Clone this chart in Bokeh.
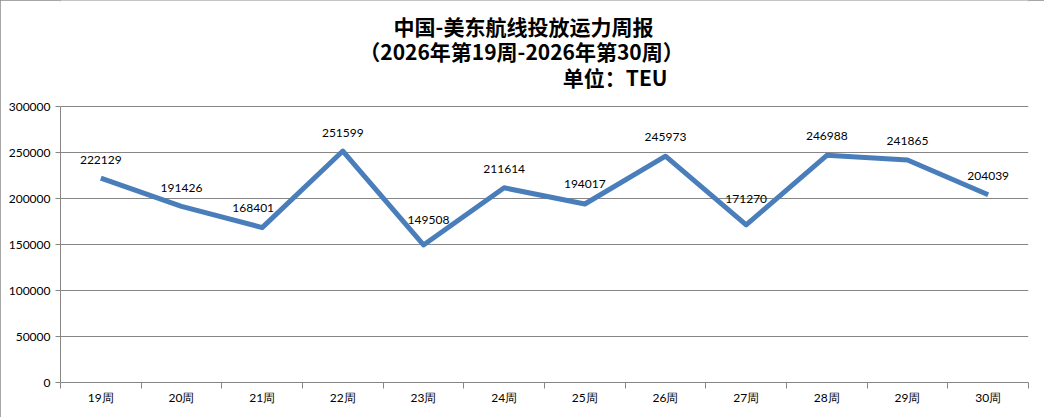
from bokeh.plotting import figure
from bokeh.models import ColumnDataSource, Range1d, FixedTicker, Label, BasicTickFormatter
from bokeh.core.properties import value
from bokeh.embed import file_html
from bokeh.resources import INLINE

weeks = ["19周", "20周", "21周", "22周", "23周", "24周", "25周", "26周", "27周", "28周", "29周", "30周"]
capacity = [222129, 191426, 168401, 251599, 149508, 211614, 194017, 245973, 171270, 246988, 241865, 204039]
y_ticks = [0, 50000, 100000, 150000, 200000, 250000, 300000]
title_lines = ["中国-美东航线投放运力周报", "（2026年第19周-2026年第30周）", "单位：TEU"]

# small per-label nudges (pixels) as in the original chart
label_dx = [0, 0, -9, 0, 5, 0, 0, 0, 0, 0, 0, 0]
label_dy = [-18, -18, -20, -18, -25, -19, -20, -19, -26, -19, -19, -19]

W, H = 1044, 417
BOTTOM = 35
frame_h = H - BOTTOM            # frame spans from canvas top to axis
axis_px = 276                   # pixel height of the 0..300000 scale
y_end = y_ticks[-1] * frame_h / axis_px

xs = [i + 0.5 for i in range(len(weeks))]
src = ColumnDataSource(dict(x=xs, y=capacity, label=[str(v) for v in capacity],
                            dx=label_dx, dy=label_dy))

GRAY = "#868686"
p = figure(width=W, height=H, output_backend="svg", toolbar_location=None,
           x_range=Range1d(0, len(weeks)), y_range=Range1d(y_ticks[0], y_end),
           min_border_left=60, min_border_right=16, min_border_top=0, min_border_bottom=BOTTOM)
p.outline_line_color = None
p.background_fill_color = "white"
p.border_fill_color = "white"
p.styles = {"outline": "2px solid #8a8a8a", "outline-offset": "-2px"}

p.line("x", "y", source=src, line_color="#4a7ebb", line_width=5, line_join="round")
p.text("x", "y", text="label", source=src, text_align="center", text_baseline="middle",
       x_offset="dx", y_offset="dy", text_font=value("Lato"), text_font_size="12px",
       text_color="black")

# x axis
xa = p.xaxis[0]
xa.ticker = FixedTicker(ticks=xs, minor_ticks=list(range(len(weeks) + 1)))
xa.major_label_overrides = {x: w for x, w in zip(xs, weeks)}
xa.major_tick_line_color = None
xa.major_tick_out = 0
xa.major_tick_in = 0
xa.minor_tick_in = 0
xa.minor_tick_out = 6
xa.minor_tick_line_color = GRAY
xa.axis_line_color = GRAY
xa.major_label_standoff = 1
xa.major_label_text_font = "Lato"
xa.major_label_text_font_size = "12px"
xa.major_label_text_color = "black"
p.xgrid.grid_line_color = None

# y axis
ya = p.yaxis[0]
ya.bounds = (y_ticks[0], y_ticks[-1])
ya.ticker = FixedTicker(ticks=y_ticks)
ya.formatter = BasicTickFormatter(use_scientific=False)
ya.minor_tick_line_color = None
ya.major_tick_in = 0
ya.major_tick_out = 5
ya.major_tick_line_color = GRAY
ya.axis_line_color = GRAY
ya.major_label_standoff = 5
ya.major_label_text_font = "Lato"
ya.major_label_text_font_size = "12px"
ya.major_label_text_color = "black"
p.ygrid.ticker = FixedTicker(ticks=y_ticks)
p.ygrid.grid_line_color = GRAY
p.ygrid.grid_line_width = 1

# titles (screen units relative to plot frame)
pos = [(463, 357, "center"), (461, 332, "center"), (607, 306, "right")]
for (tx, ty, al), t in zip(pos, title_lines):
    p.add_layout(Label(x=tx, y=ty, x_units="screen", y_units="screen", text=t,
                       text_align=al, text_baseline="middle", text_font="Noto Sans CJK SC",
                       text_font_size="21px", text_font_style="bold", text_color="black"))

open("out.html", "w").write(file_html(p, INLINE))
